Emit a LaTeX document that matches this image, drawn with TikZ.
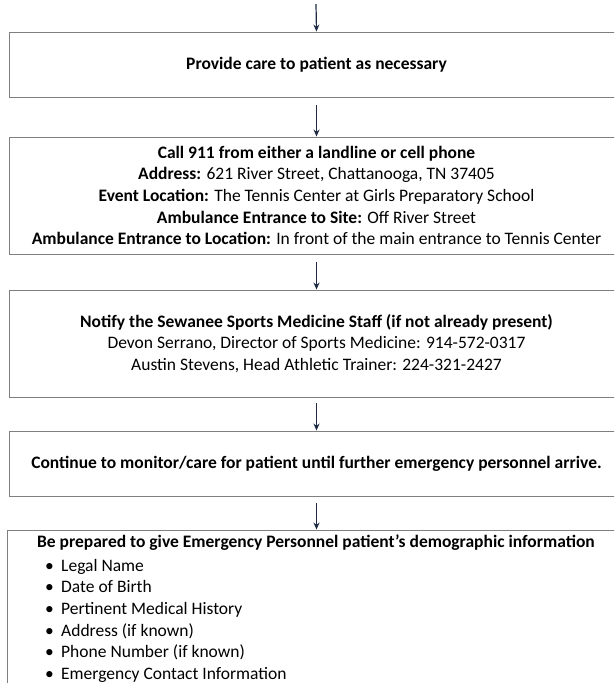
\documentclass[tikz,border=0pt]{standalone}
\usepackage{fontspec}
\setmainfont{Carlito}
\usetikzlibrary{arrows.meta}

\definecolor{arrownavy}{HTML}{1F2A44}
\definecolor{boxgray}{HTML}{7F7F7F}

\tikzset{
  flowbox/.style={draw=boxgray, line width=0.9pt, minimum width=615pt, inner sep=0pt,
    align=center, font=\fontsize{17.5}{21.6}\selectfont},
  flowtext/.style={inner sep=0pt, font=\fontsize{17.5}{21.6}\selectfont},
  flowarrow/.style={draw=arrownavy, line width=1.2pt, -{Stealth[length=7pt,width=6pt]}}
}

\begin{document}
\begin{tikzpicture}[x=1pt,y=-1pt]
\useasboundingbox (0,0) rectangle (614,683);
\clip (0,0) rectangle (614,683);
\fill[white] (0,0) rectangle (614,683);

\coordinate (start) at (316,4);
\node[flowbox, minimum height=65pt] (care) at (316.5,64.5) {\textbf{Provide care to patient as necessary}};
\node[flowbox, minimum height=117pt] (call) at (316.5,195.5)
  {\textbf{Call 911 from either a landline or cell phone}\\
   \textbf{Address:} 621 River Street, Chattanooga, TN 37405\\
   \textbf{Event Location:} The Tennis Center at Girls Preparatory School\\
   \textbf{Ambulance Entrance to Site:} Off River Street\\
   \textbf{Ambulance Entrance to Location:} In front of the main entrance to Tennis Center};
\node[flowbox, minimum height=107pt] (notify) at (316.5,343.5)
  {\textbf{Notify the Sewanee Sports Medicine Staff (if not already present)}\\
   Devon Serrano, Director of Sports Medicine: 914-572-0317\\
   Austin Stevens, Head Athletic Trainer: 224-321-2427};
\node[flowbox, minimum height=65pt] (monitor) at (316.5,463.5)
  {\textbf{Continue to monitor/care for patient until further emergency personnel arrive.}};
\node[flowbox, minimum width=619pt, minimum height=200pt] (prepare) at (316.5,630) {};
\node[flowtext] (preptitle) at (316,543)
  {\textbf{Be prepared to give Emergency Personnel patient’s demographic information}};
\node[flowtext, anchor=north west, align=left] (items) at (45,559)
  {\makebox[16pt][l]{\textbullet}Legal Name\\
   \makebox[16pt][l]{\textbullet}Date of Birth\\
   \makebox[16pt][l]{\textbullet}Pertinent Medical History\\
   \makebox[16pt][l]{\textbullet}Address (if known)\\
   \makebox[16pt][l]{\textbullet}Phone Number (if known)\\
   \makebox[16pt][l]{\textbullet}Emergency Contact Information};

\draw[flowarrow] (start) -- (care.north);
\draw[flowarrow] ([yshift=-8pt]care.south) -- (call.north);
\draw[flowarrow] ([yshift=-8pt]call.south) -- (notify.north);
\draw[flowarrow] ([yshift=-6pt]notify.south) -- (monitor.north);
\draw[flowarrow] ([yshift=-7pt]monitor.south) -- (prepare.north);
\end{tikzpicture}
\end{document}
